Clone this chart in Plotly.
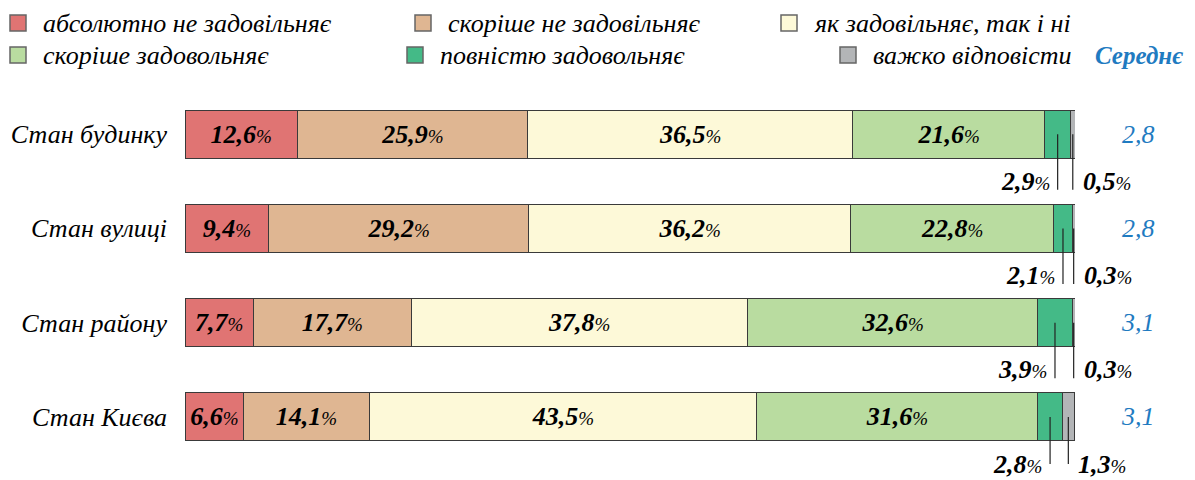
import plotly.graph_objects as go

rows = ["Стан будинку", "Стан вулиці", "Стан району", "Стан Києва"]
series = ["абсолютно не задовільняє", "скоріше не задовільняє", "як задовільняє, так і ні",
          "скоріше задовольняє", "повністю задовольняє", "важко відповісти"]
very_bad = [12.6, 9.4, 7.7, 6.6]
rather_bad = [25.9, 29.2, 17.7, 14.1]
neutral = [36.5, 36.2, 37.8, 43.5]
rather_good = [21.6, 22.8, 32.6, 31.6]
fully_good = [2.9, 2.1, 3.9, 2.8]
hard_to_say = [0.5, 0.3, 0.3, 1.3]
averages = ["2,8", "2,8", "3,1", "3,1"]

colors = ["#E07473", "#DFB692", "#FDF9D8", "#B9DCA0", "#44BA87", "#B3B5B7"]
values = [very_bad, rather_bad, neutral, rather_good, fully_good, hard_to_say]

FONT = "Liberation Serif"
BLUE = "#1F7BC1"

# page has an 8px body margin, so work in page pixels and shift
OFF = 8
W, H = 1195 - OFF, 480 - OFF
L, R, T, B = 185 - OFF, 1075 - OFF, 87 - OFF, 464 - OFF


def px(x):
    return (x - OFF - L) / (R - L)


def py(y):
    return (B - (y - OFF)) / (B - T)


def fmt(v):
    return f"{v:.1f}".replace(".", ",")


def pct(v):
    return f"<b>{fmt(v)}</b><span style='font-size:19px'>%</span>"


fig = go.Figure()
ypos = list(range(len(rows)))
for i, (name, vals, col) in enumerate(zip(series, values, colors)):
    show_text = i < 4
    fig.add_trace(go.Bar(
        y=ypos, x=vals, name=name, orientation="h",
        marker=dict(color=col, line=dict(color="#3a3a3a", width=1)),
        width=0.51,
        text=[pct(v) if show_text else "" for v in vals],
        texttemplate="%{text}",
        textposition="inside", insidetextanchor="middle", constraintext="none",
        insidetextfont=dict(family=FONT, size=26, color="black", style="italic"),
        showlegend=False, hoverinfo="skip",
    ))

shapes = []
annotations = []

# leader lines + labels for the two small segments
for r in ypos:
    start = very_bad[r] + rather_bad[r] + neutral[r] + rather_good[r]
    gx = start + fully_good[r] / 2
    hx = start + fully_good[r] + hard_to_say[r] / 2
    for x in (gx, hx):
        shapes.append(dict(type="line", xref="x", yref="y", x0=x, x1=x, y0=r, y1=r + 0.59,
                           line=dict(color="#222", width=1.2)))
    annotations.append(dict(x=gx, y=r + 0.5, xref="x", yref="y", xanchor="right", xshift=-6,
                            text=pct(fully_good[r]), showarrow=False,
                            font=dict(family=FONT, size=26, color="black", style="italic")))
    annotations.append(dict(x=hx, y=r + 0.5, xref="x", yref="y", xanchor="left", xshift=8,
                            text=pct(hard_to_say[r]), showarrow=False,
                            font=dict(family=FONT, size=26, color="black", style="italic")))
    annotations.append(dict(x=px(1138), y=r, xref="paper", yref="y", xanchor="center",
                            text=averages[r], showarrow=False,
                            font=dict(family=FONT, size=26, color=BLUE, style="italic")))

# legend drawn by hand: 3 columns x 2 rows (square centre x per entry)
leg_sq = [18, 423, 789, 18, 415, 848]
leg_y = [23, 55]
for i, (name, col) in enumerate(zip(series, colors)):
    sx = leg_sq[i]
    sy = leg_y[i // 3]
    shapes.append(dict(type="rect", xref="paper", yref="paper",
                       x0=px(sx - 8), x1=px(sx + 8), y0=py(sy + 8), y1=py(sy - 8),
                       fillcolor=col, line=dict(color="#666", width=1.5)))
    annotations.append(dict(x=px(sx + 23), y=py(sy), xref="paper", yref="paper",
                            xanchor="left", yanchor="middle", text=name, showarrow=False,
                            font=dict(family=FONT, size=26, color="black", style="italic")))
annotations.append(dict(x=px(1185), y=py(leg_y[1]), xref="paper", yref="paper",
                        xanchor="right", yanchor="middle", text="<b>Середнє</b>", showarrow=False,
                        font=dict(family=FONT, size=25, color=BLUE, style="italic")))

fig.update_layout(
    width=W, height=H,
    barmode="stack",
    separators=", ",
    margin=dict(l=L, r=W - R, t=T, b=H - B),
    paper_bgcolor="white", plot_bgcolor="white",
    xaxis=dict(range=[0, 100], visible=False, fixedrange=True, automargin=False),
    yaxis=dict(range=[3.5, -0.5], tickmode="array", tickvals=ypos, ticktext=rows,
               showgrid=False, zeroline=False, showline=False, ticks="",
               ticklabelstandoff=17, automargin=False,
               tickfont=dict(family=FONT, size=26, color="black", style="italic")),
    shapes=shapes,
    annotations=annotations,
    showlegend=False,
)

fig.write_html("out.html")
